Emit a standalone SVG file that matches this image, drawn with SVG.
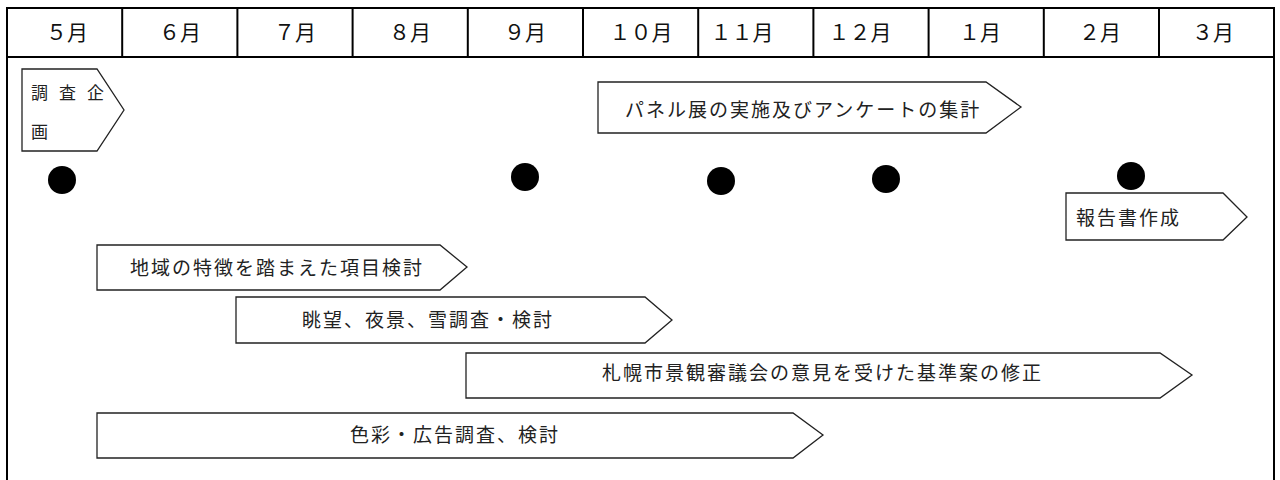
<svg xmlns="http://www.w3.org/2000/svg" width="1280" height="480" viewBox="0 0 1280 480">
<style>
.frame{stroke:#000;stroke-width:2;fill:none}
.box{fill:#fff;stroke:#222;stroke-width:1.3}
.hd{font-family:"Noto Sans CJK JP","Noto Sans",sans-serif;font-size:21px;fill:#111;text-anchor:middle}
.lb{font-family:"Noto Sans CJK JP",sans-serif;font-size:19px;fill:#222;letter-spacing:2px}
.dot{fill:#000}
</style>
<rect width="1280" height="480" fill="#fff"/>
<g id="frame">
<path class="frame" d="M7,490 V8 H1274 V490 M7,57 H1274"/>
<path class="frame" d="M122.2,8V57 M237.4,8V57 M352.6,8V57 M467.8,8V57 M583,8V57 M698.2,8V57 M813.4,8V57 M928.6,8V57 M1043.8,8V57 M1159,8V57"/>
</g>
<g id="header">
<text class="hd" x="67" y="40">５月</text>
<text class="hd" x="180" y="40">６月</text>
<text class="hd" x="295" y="40">７月</text>
<text class="hd" x="410" y="40">８月</text>
<text class="hd" x="525" y="40">９月</text>
<text class="hd" x="641" y="40">１０月</text>
<text class="hd" x="742" y="40">１１月</text>
<text class="hd" x="860" y="40">１２月</text>
<text class="hd" x="980" y="40">１月</text>
<text class="hd" x="1100" y="40">２月</text>
<text class="hd" x="1213" y="40">３月</text>
</g>
<g id="dots">
<circle class="dot" cx="62" cy="180" r="14"/>
<circle class="dot" cx="525" cy="177" r="14"/>
<circle class="dot" cx="721" cy="181" r="14"/>
<circle class="dot" cx="886" cy="179" r="14"/>
<circle class="dot" cx="1131" cy="176" r="14"/>
</g>
<g id="n-chousa">
<polygon class="box" points="22,69 97,69 124,110 97,151 22,151"/>
<text class="lb" x="31" y="99" style="font-size:17px;letter-spacing:11px">調査企</text>
<text class="lb" x="31" y="138" style="font-size:17px">画</text>
</g>
<g id="n-panel">
<polygon class="box" points="598,82 986,82 1021,107 986,133 598,133"/>
<text class="lb" x="625" y="117">パネル展の実施及びアンケートの集計</text>
</g>
<g id="n-houkoku">
<polygon class="box" points="1066,193 1223,193 1247,217 1223,240 1066,240"/>
<text class="lb" x="1076" y="225">報告書作成</text>
</g>
<g id="n-chiiki">
<polygon class="box" points="97,245 440,245 467,267 440,290 97,290"/>
<text class="lb" x="130" y="275">地域の特徴を踏まえた項目検討</text>
</g>
<g id="n-choubou">
<polygon class="box" points="236,297 645,297 672,320 645,343 236,343"/>
<text class="lb" x="302" y="327">眺望、夜景、雪調査・検討</text>
</g>
<g id="n-sapporo">
<polygon class="box" points="466,353 1160,353 1192,375 1160,398 466,398"/>
<text class="lb" x="602" y="380">札幌市景観審議会の意見を受けた基準案の修正</text>
</g>
<g id="n-shikisai">
<polygon class="box" points="97,413 793,413 823,435 793,458 97,458"/>
<text class="lb" x="350" y="442">色彩・広告調査、検討</text>
</g>
<g id="connectors"></g>
</svg>
